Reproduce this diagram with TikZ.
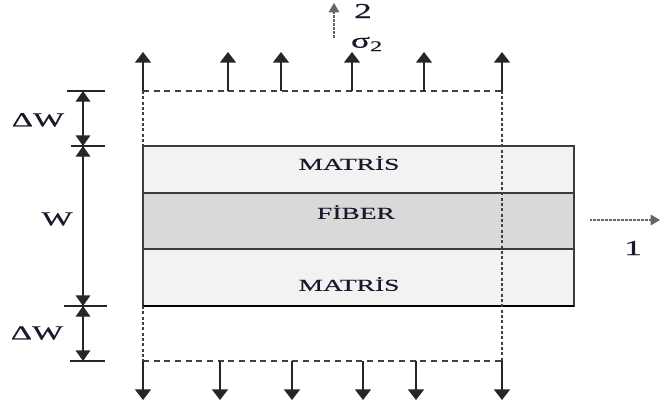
\documentclass[tikz,border=0pt]{standalone}
\usepackage{fontspec}
\setmainfont{Liberation Serif}[FakeStretch=1.65,FakeBold=0.5]
\usepackage{tikz}
\usetikzlibrary{calc,arrows.meta}
\definecolor{fillM}{RGB}{242,242,242}
\definecolor{fillF}{RGB}{217,217,217}
\definecolor{edgeD}{RGB}{60,60,60}
\definecolor{inkT}{RGB}{25,25,45}
\tikzset{
  load/.style={-{Triangle[width=12pt,length=8pt]},line width=1.2pt,draw=black!85},
  dimarrow/.style={{Triangle[width=11pt,length=8pt]}-{Triangle[width=11pt,length=8pt]},line width=1pt,draw=black!85},
  tickline/.style={line width=0.8pt,draw=black!85},
  dashH/.style={line width=1.1pt,draw=black!75,dash pattern=on 4.5pt off 3.5pt},
  dashV/.style={line width=1.1pt,draw=black!75,dash pattern=on 2.2pt off 1.8pt},
  axisarrow/.style={-{Triangle[width=8pt,length=7pt]},line width=0.8pt,draw=black!60,dash pattern=on 0.6pt off 0.4pt},
  layerlabel/.style={inner sep=0pt,text=inkT,font=\fontsize{12.5}{14}\selectfont},
  dimlabel/.style={inner sep=0pt,text=inkT,font=\fontsize{15}{17}\selectfont},
  axislabel/.style={inner sep=0pt,text=inkT,font=\fontsize{16}{18}\selectfont},
}

\begin{document}
\begin{tikzpicture}[x=0.75pt,y=-0.75pt]
    \useasboundingbox (0,0) rectangle (660,410);
    \def\xL{143}
    \def\xR{574}
    \def\xD{502}
    \def\xDim{83}
    \def\yT{91}
    \def\yA{146}
    \def\yB{193}
    \def\yC{249}
    \def\yD{306}
    \def\yE{361}

    % layers
    \filldraw[fill=fillM,draw=edgeD,line width=1pt] (\xL,\yA) rectangle (\xR,\yB);
    \filldraw[fill=fillF,draw=edgeD,line width=1pt] (\xL,\yB) rectangle (\xR,\yC);
    \filldraw[fill=fillM,draw=edgeD,line width=1pt] (\xL,\yC) rectangle (\xR,\yD);
    \draw[black,line width=1.5pt] (\xL,\yD) -- (\xR,\yD);

    \node[layerlabel] (matrisTop) at (349,163) {MATRİS};
    \node[layerlabel] (fiber) at (356,212) {FİBER};
    \node[layerlabel] (matrisBot) at (349,284) {MATRİS};

    % deformed outline
    \draw[dashH] (\xL,\yT) -- (\xD,\yT);
    \draw[dashH] (\xL,\yE) -- (\xD,\yE);
    \draw[dashV] (\xL,\yT) -- (\xL,\yA);
    \draw[dashV] (\xL,\yD) -- (\xL,\yE);
    \draw[dashV] (\xD,\yT) -- (\xD,\yE);

    % loads
    \foreach \x [count=\i] in {143,228,281,352,424,502} {
        \coordinate (upBase\i) at (\x,\yT);
        \coordinate (upTip\i) at (\x,52);
        \draw[load] (upBase\i) -- (upTip\i);
    }
    \foreach \x [count=\i] in {143,220,292,363,416,502} {
        \coordinate (dnBase\i) at (\x,\yE);
        \coordinate (dnTip\i) at (\x,400);
        \draw[load] (dnBase\i) -- (dnTip\i);
    }

    % dimensions
    \coordinate (dimT) at (\xDim,\yT);
    \coordinate (dimA) at (\xDim,\yA);
    \coordinate (dimD) at (\xDim,\yD);
    \coordinate (dimE) at (\xDim,\yE);
    \draw[tickline] (67,\yT) -- (105,\yT);
    \draw[tickline] (71,\yA) -- (105,\yA);
    \draw[tickline] (64,\yD) -- (107,\yD);
    \draw[tickline] (70,\yE) -- (105,\yE);
    \draw[dimarrow] (dimT) -- (dimA);
    \draw[dimarrow] (dimA) -- (dimD);
    \draw[dimarrow] (dimD) -- (dimE);
    \node[dimlabel] (dwTop) at (38,120) {ΔW};
    \node[dimlabel] (wLabel) at (57,219) {W};
    \node[dimlabel] (dwBot) at (37,333) {ΔW};

    % axes
    \coordinate (ax2from) at (334,38);
    \coordinate (ax2to) at (334,3);
    \coordinate (ax1from) at (590,220);
    \coordinate (ax1to) at (660,220);
    \draw[axisarrow] (ax2from) -- (ax2to);
    \draw[axisarrow] (ax1from) -- (ax1to);
    \node[axislabel] (lab2) at (363,11) {2};
    \node[axislabel] (sigma) at (367,44) {σ\textsubscript{2}};
    \node[axislabel] (lab1) at (633,248) {1};
  \end{tikzpicture}
\end{document}
